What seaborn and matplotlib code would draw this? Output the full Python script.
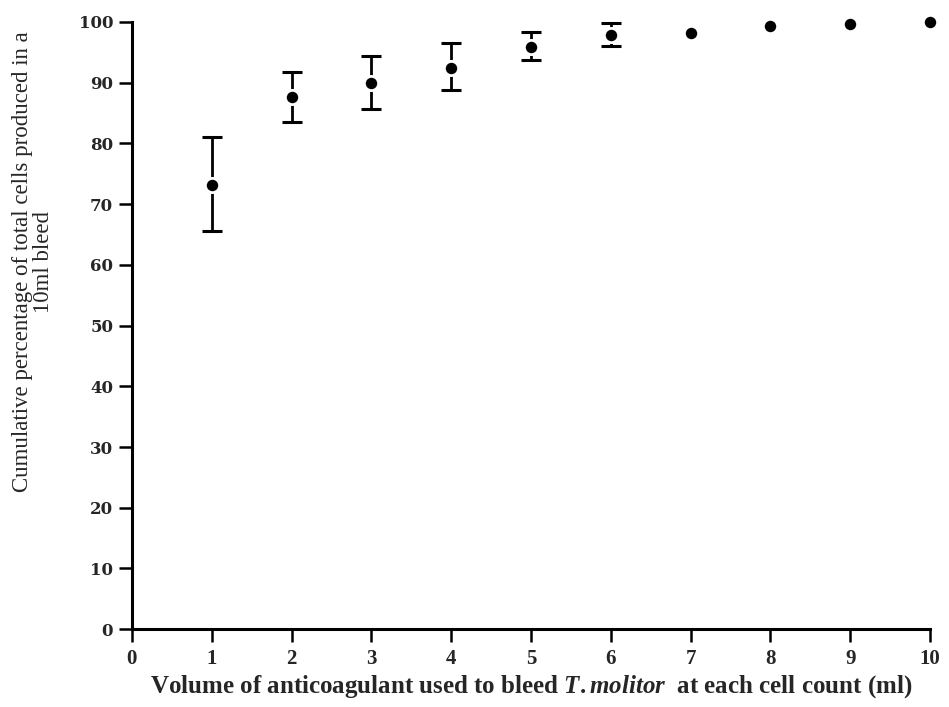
import matplotlib
matplotlib.use("Agg")
import matplotlib.pyplot as plt
import seaborn as sns
import pandas as pd
import numpy as np

volume = [1, 2, 3, 4, 5, 6, 7, 8, 9, 10]
cum_pct = [73.2, 87.6, 90.0, 92.4, 95.9, 97.9, 98.2, 99.3, 99.7, 100.0]
err_low = [7.6, 4.1, 4.3, 3.6, 2.2, 1.9, 0, 0, 0, 0]
err_high = [7.8, 4.2, 4.4, 4.1, 2.5, 1.9, 0, 0, 0, 0]
x_ticks = list(range(0, 11))
y_ticks = list(range(0, 101, 10))

df = pd.DataFrame({"volume": volume, "pct": cum_pct})

sns.set_style("white")
plt.rcParams["font.family"] = ["Liberation Serif", "DejaVu Serif"]
plt.rcParams["mathtext.fontset"] = "custom"
plt.rcParams["mathtext.it"] = "Liberation Serif:italic:bold"
plt.rcParams["mathtext.rm"] = "Liberation Serif:bold"

fig = plt.figure(figsize=(9.49, 7.07), dpi=100)
ax = fig.add_axes([0.139, 0.110, 0.841, 0.859])

mask = [i for i in range(len(volume)) if err_low[i] > 0 or err_high[i] > 0]
eb = ax.errorbar([volume[i] for i in mask], [cum_pct[i] for i in mask],
                 yerr=[[err_low[i] for i in mask], [err_high[i] for i in mask]],
                 fmt="none", ecolor="black", elinewidth=2.0, capsize=7, capthick=2.2,
                 zorder=2)
for art in eb.get_children():
    art.set_clip_on(False)

sns.scatterplot(data=df, x="volume", y="pct", ax=ax, color="black", s=105,
                edgecolor="white", linewidth=2.0, zorder=3, legend=False,
                clip_on=False)

ax.set_xlim(0, 10)
ax.set_ylim(0, 100)
ax.set_xticks(x_ticks)
ax.set_yticks(y_ticks)
ax.set_xticklabels([str(t) for t in x_ticks], fontsize=15, fontweight="bold")
ax.set_yticklabels([str(t) for t in y_ticks], fontsize=12, fontweight="bold",
                   family="DejaVu Serif")

for s in ["top", "right"]:
    ax.spines[s].set_visible(False)
for s in ["left", "bottom"]:
    ax.spines[s].set_linewidth(2.2)
    ax.spines[s].set_color("black")
ax.tick_params(axis="both", direction="out", length=9.5, width=1.8, color="black",
               left=True, bottom=True)
ax.tick_params(axis="y", pad=4)
ax.tick_params(axis="x", pad=5)

ax.set_xlabel(r"Volume of anticoagulant used to bleed $\it{T.molitor}$  at each cell count (ml)",
              fontsize=18, fontweight="bold", labelpad=3)
ax.set_ylabel("Cumulative percentage of total cells produced in a\n10ml bleed",
              fontsize=16.5, linespacing=1.0)
ax.yaxis.set_label_coords(-0.097, 0.605)
ax.grid(False)

fig.savefig("out.png", dpi=100)
